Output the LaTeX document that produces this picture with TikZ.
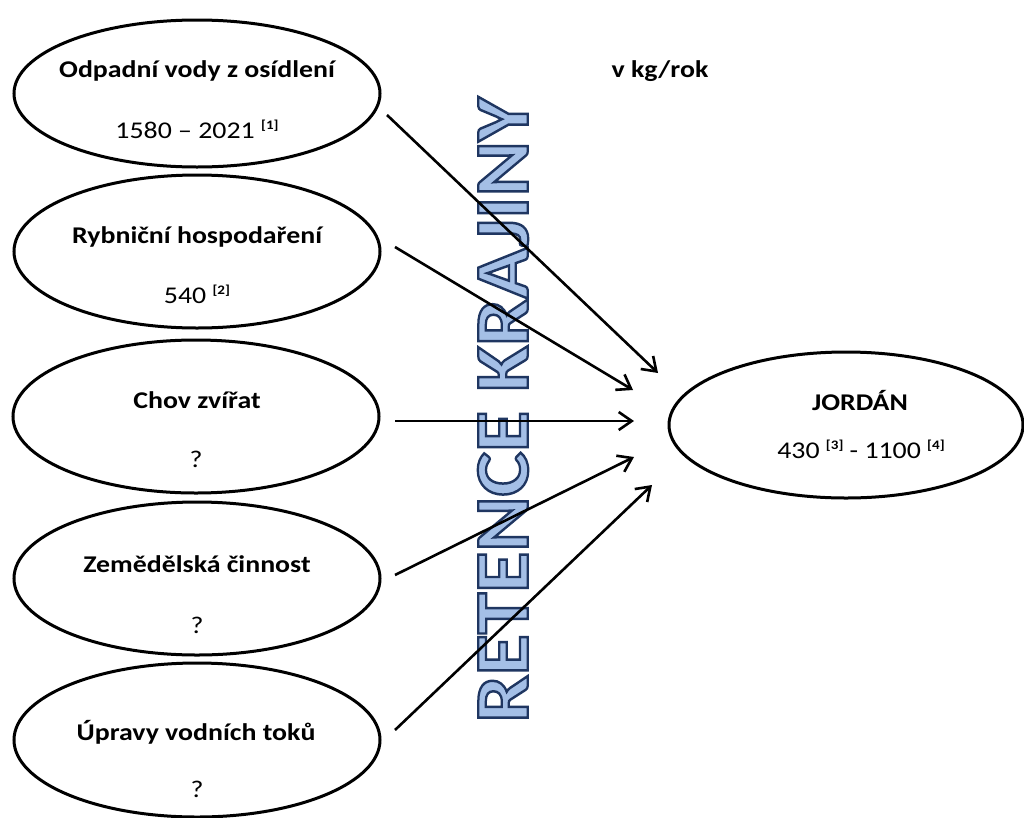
\documentclass[tikz,border=0pt]{standalone}
\usepackage{fontspec}
\setmainfont{Carlito}[FakeStretch=1.16]
\newfontfamily\retfont{Carlito}
\usetikzlibrary{arrows.meta,shapes.geometric}
\definecolor{retfill}{HTML}{A4BFE6}
\newcommand{\refmark}[1]{\raisebox{9pt}{\fontsize{13}{13}\selectfont\bfseries[#1]}}
\newcommand{\outlinedtext}[1]{{\color{retfill}\special{pdf:literal direct 2 Tr 2.3 w 0.12 0.21 0.38 RG}#1\special{pdf:literal direct 0 Tr}}}
\begin{document}
\begin{tikzpicture}[x=1pt,y=-1pt,
  src/.style={draw, ellipse, line width=3pt, minimum width=366pt, inner sep=0pt},
  ttl/.style={font=\fontsize{24}{28}\selectfont\bfseries, inner sep=0pt, anchor=base},
  val/.style={font=\fontsize{24}{28}\selectfont, inner sep=0pt, anchor=base},
  flow/.style={line width=2.6pt, -{Straight Barb[length=13pt,width=18pt,line width=2.6pt]}}
]
\useasboundingbox (0,0) rectangle (1024,817);
\fill[white] (0,0) rectangle (1024,817);

% source ellipses
\node[src, minimum height=147pt] (e1) at (197,93.5) {};
\node[src, minimum height=153pt] (e2) at (197,251.5) {};
\node[src, minimum height=153pt] (e3) at (196,416.5) {};
\node[src, minimum height=153pt] (e4) at (197,578.5) {};
\node[src, minimum height=154pt] (e5) at (197,740) {};
\node[draw, ellipse, line width=3pt, minimum width=354pt, minimum height=146pt, inner sep=0pt] (jordan) at (846,425) {};

% texts
\node[ttl] (t1) at (197,77) {Odpadní vody z osídlení};
\node[val] (v1) at (197,138) {1580 – 2021 \refmark{1}};
\node[ttl] (t2) at (197,243) {Rybniční hospodaření};
\node[val] (v2) at (197,303) {540 \refmark{2}};
\node[ttl] (t3) at (197,408) {Chov zvířat};
\node[val] (v3) at (196,467) {?};
\node[ttl] (t4) at (197,572) {Zemědělská činnost};
\node[val] (v4) at (197,633) {?};
\node[ttl] (t5) at (196,740) {Úpravy vodních toků};
\node[val] (v5) at (197,797) {?};
\node[ttl] (tj) at (860,410) {JORDÁN};
\node[val] (vj) at (861,458) {430 \refmark{3} - 1100 \refmark{4}};
\node[ttl] (unit) at (660,77) {v kg/rok};

% retention label
\node[rotate=90, inner sep=0pt] (ret) at (503,410) {\resizebox{625pt}{50pt}{\fontsize{78}{80}\retfont\bfseries\outlinedtext{RETENCE KRAJINY}}};

% arrows
\coordinate (s1) at (387,115);
\coordinate (s2) at (395,247);
\coordinate (s3) at (395,421);
\coordinate (s4) at (395,575);
\coordinate (s5) at (395,730);
\coordinate (p1) at (658,373);
\coordinate (p2) at (633,390);
\coordinate (p3) at (634,421);
\coordinate (p4) at (634,457);
\coordinate (p5) at (652,485);
\draw[flow] (s1) -- (p1);
\draw[flow] (s2) -- (p2);
\draw[flow] (s3) -- (p3);
\draw[flow] (s4) -- (p4);
\draw[flow] (s5) -- (p5);
\end{tikzpicture}
\end{document}
